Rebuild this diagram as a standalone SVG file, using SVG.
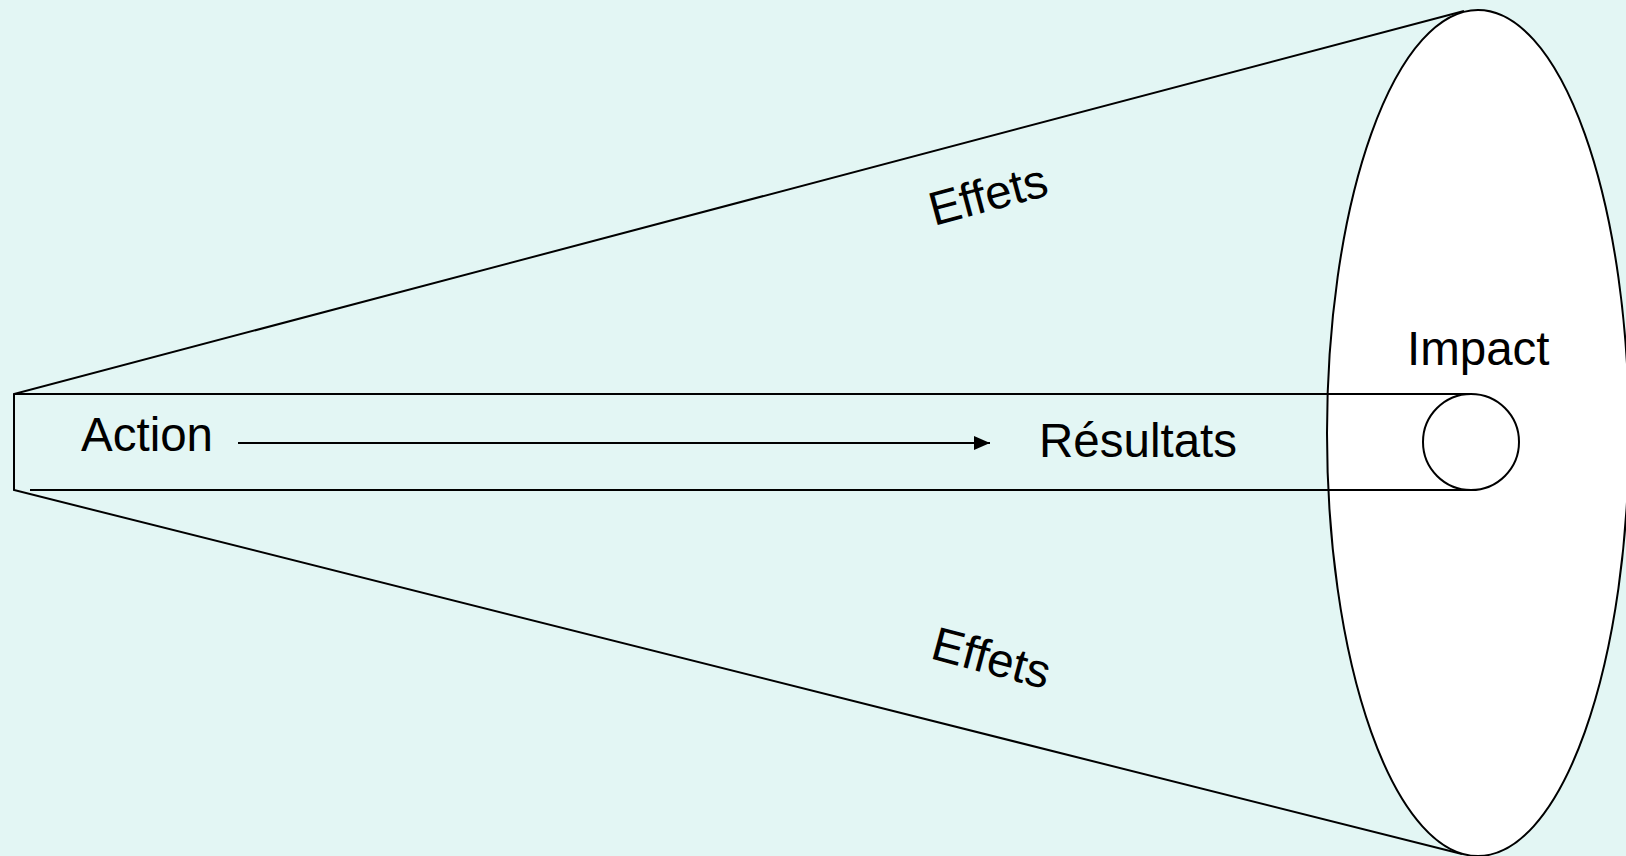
<svg xmlns="http://www.w3.org/2000/svg" width="1626" height="856" viewBox="0 0 1626 856">
<defs>
<style>
.ln{stroke:#000;stroke-width:2;fill:none}
.tx{font-family:"Liberation Sans",Arial,sans-serif;font-size:47.5px;fill:#000}
</style>
<marker id="arr" viewBox="0 0 16 14" refX="16" refY="7" markerWidth="16" markerHeight="14" markerUnits="userSpaceOnUse" orient="auto">
<path d="M0,0 L16,7 L0,14 Z" fill="#000"/>
</marker>
</defs>
<rect width="1626" height="856" fill="#E3F6F4"/>
<g id="cone">
<path class="ln" d="M1464,11 L14,394 L14,490 L1462,854"/>
</g>
<g id="impact">
<ellipse cx="1478" cy="433" rx="151" ry="423" fill="#fff" stroke="#000" stroke-width="2"/>
<text class="tx" x="1407" y="365">Impact</text>
</g>
<g id="band">
<line class="ln" x1="14" y1="394" x2="1472" y2="394"/>
<line class="ln" x1="30" y1="490" x2="1472" y2="490"/>
<circle cx="1471" cy="442" r="48" fill="#fff" stroke="#000" stroke-width="2"/>
</g>
<g id="action">
<text class="tx" x="81" y="451">Action</text>
</g>
<g id="resultats">
<text class="tx" x="1039" y="457">Résultats</text>
</g>
<g id="effets-top">
<text class="tx" transform="translate(934,226) rotate(-15)">Effets</text>
</g>
<g id="effets-bottom">
<text class="tx" transform="translate(929,658) rotate(15)">Effets</text>
</g>
<g id="connectors">
<line class="ln" x1="238" y1="443" x2="990" y2="443" marker-end="url(#arr)"/>
</g>
</svg>
